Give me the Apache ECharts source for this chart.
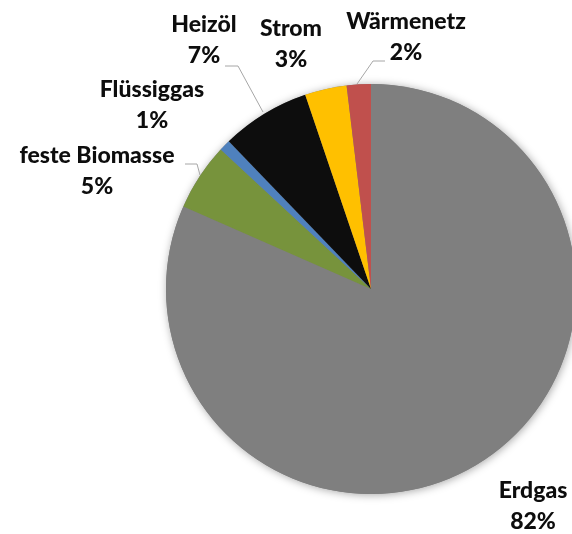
<!DOCTYPE html>
<html>
<head>
<meta charset="utf-8">
<script src="https://cdn.jsdelivr.net/npm/echarts@6/dist/echarts.min.js"></script>
<style>
  html, body { margin: 0; padding: 0; background: #fff; }
  #chart { width: 572px; height: 534px; }
</style>
</head>
<body>
<div id="chart"></div>
<script>
// Energieträger, Anteile in %
var names = ['Erdgas', 'feste Biomasse', 'Flüssiggas', 'Heizöl', 'Strom', 'Wärmenetz'];
var shares = [81.6, 5.3, 0.9, 7.0, 3.3, 1.9];
var colors = ['#7f7f7f', '#77933c', '#4f81bd', '#0d0d0d', '#ffc000', '#c0504d'];

// label placement (pixel centres) and leader lines
var labelPos = [[533, 506], [97, 171], [152, 105], [204, 40], [291, 44], [406, 37]];
var leader = {
  1: [[185, 164], [197, 164], [200, 175]],
  3: [[225, 66], [238, 66], [263, 112]],
  5: [[385, 61], [373, 61], [357, 84]]
};

var chart = echarts.init(document.getElementById('chart'));

chart.setOption({
  animation: false,
  series: [
    {
      // shadow disc underneath
      type: 'pie',
      silent: true,
      center: [371, 289],
      radius: 205,
      label: { show: false },
      labelLine: { show: false },
      itemStyle: {
        color: '#7f7f7f',
        shadowBlur: 8,
        shadowColor: 'rgba(0,0,0,0.35)',
        shadowOffsetX: 1,
        shadowOffsetY: 1
      },
      data: [1],
      z: 1
    },
    {
      type: 'pie',
      center: [371, 289],
      radius: 205,
      startAngle: 90,
      clockwise: true,
      percentPrecision: 0,
      z: 2,
      itemStyle: { borderWidth: 0 },
      label: {
        show: true,
        position: 'outside',
        formatter: '{b}\n{d}%',
        fontFamily: 'Lato',
        fontWeight: 900,
        fontSize: 23,
        lineHeight: 31,
        color: '#0d0d0d',
        align: 'center',
        overflow: 'none',
        width: 220
      },
      labelLine: {
        show: true,
        lineStyle: { color: '#a6a6a6', width: 1 }
      },
      labelLayout: function (p) {
        var pos = labelPos[p.dataIndex];
        var out = {
          x: pos[0],
          y: pos[1],
          align: 'center',
          verticalAlign: 'middle',
          moveOverlap: false
        };
        if (leader[p.dataIndex]) out.labelLinePoints = leader[p.dataIndex];
        return out;
      },
      data: names.map(function (n, i) {
        return {
          name: n,
          value: shares[i],
          itemStyle: { color: colors[i] },
          labelLine: { show: !!leader[i] }
        };
      })
    }
  ]
});
</script>
</body>
</html>
